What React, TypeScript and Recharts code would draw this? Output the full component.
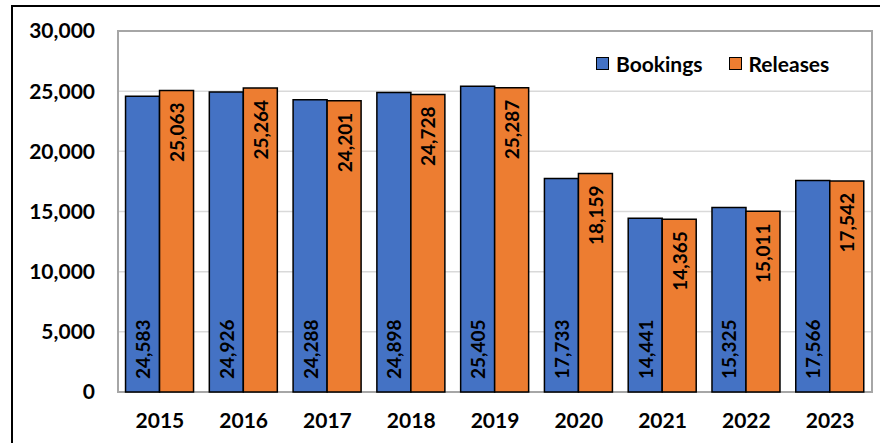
import { Bar, BarChart, CartesianGrid, LabelList, ReferenceArea, XAxis, YAxis } from "recharts";

const years = ["2015", "2016", "2017", "2018", "2019", "2020", "2021", "2022", "2023"];
const bookings = [24583, 24926, 24288, 24898, 25405, 17733, 14441, 15325, 17566];
const releases = [25063, 25264, 24201, 24728, 25287, 18159, 14365, 15011, 17542];
const yTicks = [0, 5000, 10000, 15000, 20000, 25000, 30000];

const data = years.map((year, i) => ({ year, Bookings: bookings[i], Releases: releases[i] }));

const FONT = "Lato, 'Open Sans', sans-serif";
const BLUE = "#4472C4";
const ORANGE = "#ED7D31";
const series = [
  { name: "Bookings", color: BLUE },
  { name: "Releases", color: ORANGE },
];

const fmt = (v: number) => v.toLocaleString("en-US");

function BaseLabel(props: any) {
  const { x, y, width, height, value } = props;
  const cx = x + width / 2;
  const by = y + height - 13;
  return (
    <text
      x={cx}
      y={by}
      transform={`rotate(-90, ${cx}, ${by})`}
      textAnchor="start"
      dominantBaseline="central"
      fontFamily={FONT}
      fontWeight="bold"
      fontSize={19}
      fill="#000"
    >
      {fmt(value)}
    </text>
  );
}

function TopLabel(props: any) {
  const { x, y, width, value } = props;
  const cx = x + width / 2;
  const ty = y + 12;
  return (
    <text
      x={cx}
      y={ty}
      transform={`rotate(-90, ${cx}, ${ty})`}
      textAnchor="end"
      dominantBaseline="central"
      fontFamily={FONT}
      fontWeight="bold"
      fontSize={19}
      fill="#000"
    >
      {fmt(value)}
    </text>
  );
}

export default function App() {
  return (
    <div style={{ position: "absolute", left: 0, top: 0, width: 880, height: 443, overflow: "hidden", background: "#fff" }}>
      <div
        style={{
          position: "absolute",
          left: 11,
          top: 5,
          width: 1000,
          height: 1000,
          border: "2px solid #000",
        }}
      />
      <div style={{ position: "absolute", left: 0, top: 0 }}>
        <BarChart
          width={880}
          height={443}
          data={data}
          margin={{ top: 31, right: 8, bottom: 0, left: 0 }}
          barCategoryGap="9%"
          barGap={0}
        >
          <CartesianGrid vertical={false} stroke="#d9d9d9" strokeWidth={1.5} />
          <ReferenceArea y1={0} y2={30000} fill="none" stroke="#a6a6a6" strokeWidth={2} />
          <XAxis
            dataKey="year"
            height={51}
            axisLine={false}
            tickLine={false}
            tickMargin={15}
            tick={{ fill: "#000", fontSize: 21, fontWeight: "bold", fontFamily: FONT }}
          />
          <YAxis
            width={118}
            domain={[0, 30000]}
            ticks={yTicks}
            axisLine={false}
            tickLine={false}
            tickMargin={17}
            tickFormatter={fmt}
            tick={{ fill: "#000", fontSize: 21, fontWeight: "bold", fontFamily: FONT }}
          />
          <Bar dataKey="Bookings" fill={BLUE} stroke="#000" strokeWidth={1.5} isAnimationActive={false}>
            <LabelList dataKey="Bookings" content={<BaseLabel />} />
          </Bar>
          <Bar dataKey="Releases" fill={ORANGE} stroke="#000" strokeWidth={1.5} isAnimationActive={false}>
            <LabelList dataKey="Releases" content={<TopLabel />} />
          </Bar>
        </BarChart>
      </div>
      <div
        style={{
          position: "absolute",
          left: 596,
          top: 51,
          display: "flex",
          fontFamily: FONT,
          fontWeight: "bold",
          fontSize: 21,
          color: "#000",
        }}
      >
        {series.map((s) => (
          <div key={s.name} style={{ display: "flex", alignItems: "center", marginRight: 26 }}>
            <span
              style={{
                display: "inline-block",
                width: 11,
                height: 11,
                background: s.color,
                border: "1.5px solid #000",
                marginRight: 7,
              }}
            />
            {s.name}
          </div>
        ))}
      </div>
    </div>
  );
}
